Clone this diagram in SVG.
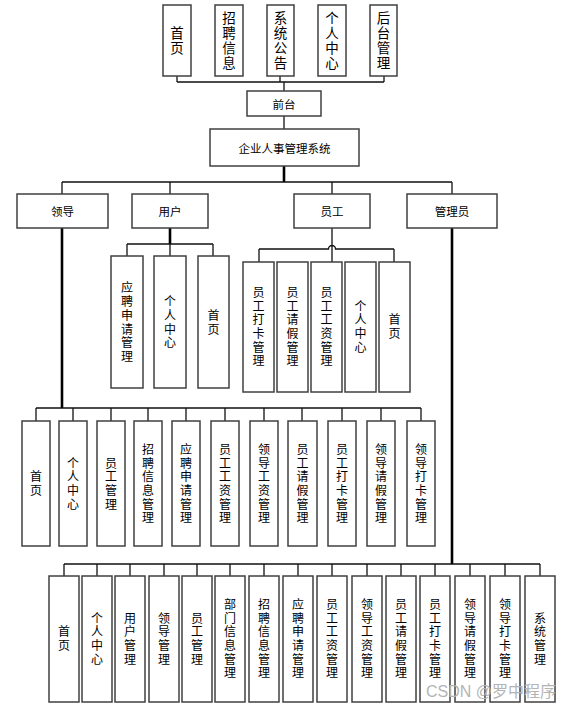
<svg xmlns="http://www.w3.org/2000/svg" width="578" height="710" viewBox="0 0 578 710">
<style>
.box{fill:#fff;stroke:#404040;stroke-width:1.5}
.ln{fill:none;stroke:#111;stroke-width:1.3}
.thick{fill:none;stroke:#000;stroke-width:2.6}
text{font-family:"Noto Sans CJK SC","Liberation Sans",sans-serif;fill:#000;text-anchor:middle}
.h{font-size:11.5px;dominant-baseline:central}
.v{font-size:12px;writing-mode:vertical-rl;letter-spacing:1.7px}
.t{font-size:13.5px;writing-mode:vertical-rl;letter-spacing:1.5px}
.wm{font-family:"Liberation Sans","Noto Sans CJK SC",sans-serif;font-size:16px;fill:#b4b4b4;text-anchor:start}
</style>
<rect width="578" height="710" fill="#fff"/>
<g id="connectors">
<path class="ln" d="M177 76V82M280 76V82M384 76V82M177 82H384M284 82V91"/>
<path class="ln" d="M284 116V129"/>
<path class="thick" d="M284 166V182"/>
<path class="ln" d="M62 182H452M170 182V194M332 182V194M62 182V194M452 182V194"/>
<path class="thick" d="M170 228V244"/>
<path class="ln" d="M127 244H213M127 244V256M170 244V256M213 244V256"/>
<path class="ln" d="M332 228V262M259 249H328.5a3.5 3.5 0 0 1 7 0H394M259 249V262M394 249V262"/>
<path class="thick" d="M62 228V408"/>
<path class="ln" d="M36 408H421M36 408V421M73 408V421M111 408V421M148 408V421M186 408V421M225 408V421M264 408V421M302 408V421M342 408V421M381 408V421M421 408V421"/>
<path class="thick" d="M452 228V564"/>
<path class="ln" d="M64 564H540M64 564V576M97 564V576M130 564V576M164 564V576M197 564V576M230 564V576M264 564V576M298 564V576M332 564V576M367 564V576M401 564V576M435 564V576M470 564V576M505 564V576M540 564V576"/>
</g>
<g id="n-shouye-top"><rect class="box" x="163" y="5" width="28" height="71"/><text class="t" x="177" y="41">首页</text></g>
<g id="n-zhaopin-top"><rect class="box" x="215" y="5" width="28" height="71"/><text class="t" x="229" y="41">招聘信息</text></g>
<g id="n-gonggao-top"><rect class="box" x="267" y="5" width="27" height="71"/><text class="t" x="280.5" y="41">系统公告</text></g>
<g id="n-geren-top"><rect class="box" x="318" y="5" width="28" height="71"/><text class="t" x="332" y="41">个人中心</text></g>
<g id="n-houtai-top"><rect class="box" x="370" y="5" width="27" height="71"/><text class="t" x="383.5" y="41">后台管理</text></g>
<g id="n-qiantai"><rect class="box" x="247" y="91" width="74" height="25"/><text class="h" x="284" y="103.5">前台</text></g>
<g id="n-system"><rect class="box" x="210" y="129" width="149" height="37"/><text class="h" x="284.5" y="147.5">企业人事管理系统</text></g>
<g id="n-lingdao"><rect class="box" x="17" y="194" width="91" height="34"/><text class="h" x="62.5" y="211">领导</text></g>
<g id="n-yonghu"><rect class="box" x="132" y="194" width="76" height="34"/><text class="h" x="170" y="211">用户</text></g>
<g id="n-yuangong"><rect class="box" x="294" y="194" width="76" height="34"/><text class="h" x="332" y="211">员工</text></g>
<g id="n-guanliyuan"><rect class="box" x="407" y="194" width="90" height="34"/><text class="h" x="452" y="211">管理员</text></g>
<g id="n-u1"><rect class="box" x="111" y="256" width="32" height="132"/><text class="v" x="127" y="323">应聘申请管理</text></g>
<g id="n-u2"><rect class="box" x="154" y="256" width="32" height="132"/><text class="v" x="170" y="323">个人中心</text></g>
<g id="n-u3"><rect class="box" x="198" y="256" width="31" height="132"/><text class="v" x="213.5" y="323">首页</text></g>
<g id="n-e1"><rect class="box" x="243" y="262" width="31" height="130"/><text class="v" x="258.5" y="327.5">员工打卡管理</text></g>
<g id="n-e2"><rect class="box" x="277" y="262" width="31" height="130"/><text class="v" x="292.5" y="327.5">员工请假管理</text></g>
<g id="n-e3"><rect class="box" x="311" y="262" width="31" height="130"/><text class="v" x="326.5" y="327.5">员工工资管理</text></g>
<g id="n-e4"><rect class="box" x="345" y="262" width="31" height="130"/><text class="v" x="360.5" y="327.5">个人中心</text></g>
<g id="n-e5"><rect class="box" x="379" y="262" width="31" height="130"/><text class="v" x="394.5" y="327.5">首页</text></g>
<g id="n-l1"><rect class="box" x="22" y="421" width="28" height="125"/><text class="v" x="36" y="484.5">首页</text></g>
<g id="n-l2"><rect class="box" x="59" y="421" width="28" height="125"/><text class="v" x="73" y="484.5">个人中心</text></g>
<g id="n-l3"><rect class="box" x="97" y="421" width="28" height="125"/><text class="v" x="111" y="484.5">员工管理</text></g>
<g id="n-l4"><rect class="box" x="134" y="421" width="28" height="125"/><text class="v" x="148" y="484.5">招聘信息管理</text></g>
<g id="n-l5"><rect class="box" x="172" y="421" width="28" height="125"/><text class="v" x="186" y="484.5">应聘申请管理</text></g>
<g id="n-l6"><rect class="box" x="211" y="421" width="28" height="125"/><text class="v" x="225" y="484.5">员工工资管理</text></g>
<g id="n-l7"><rect class="box" x="250" y="421" width="28" height="125"/><text class="v" x="264" y="484.5">领导工资管理</text></g>
<g id="n-l8"><rect class="box" x="288" y="421" width="29" height="125"/><text class="v" x="302.5" y="484.5">员工请假管理</text></g>
<g id="n-l9"><rect class="box" x="328" y="421" width="28" height="125"/><text class="v" x="342" y="484.5">员工打卡管理</text></g>
<g id="n-l10"><rect class="box" x="367" y="421" width="28" height="125"/><text class="v" x="381" y="484.5">领导请假管理</text></g>
<g id="n-l11"><rect class="box" x="407" y="421" width="28" height="125"/><text class="v" x="421" y="484.5">领导打卡管理</text></g>
<g id="n-a1"><rect class="box" x="49" y="576" width="30" height="126"/><text class="v" x="64" y="639.5">首页</text></g>
<g id="n-a2"><rect class="box" x="82" y="576" width="30" height="126"/><text class="v" x="97" y="639.5">个人中心</text></g>
<g id="n-a3"><rect class="box" x="115" y="576" width="30" height="126"/><text class="v" x="130" y="639.5">用户管理</text></g>
<g id="n-a4"><rect class="box" x="149" y="576" width="30" height="126"/><text class="v" x="164" y="639.5">领导管理</text></g>
<g id="n-a5"><rect class="box" x="182" y="576" width="30" height="126"/><text class="v" x="197" y="639.5">员工管理</text></g>
<g id="n-a6"><rect class="box" x="215" y="576" width="30" height="126"/><text class="v" x="230" y="639.5">部门信息管理</text></g>
<g id="n-a7"><rect class="box" x="249" y="576" width="30" height="126"/><text class="v" x="264" y="639.5">招聘信息管理</text></g>
<g id="n-a8"><rect class="box" x="283" y="576" width="30" height="126"/><text class="v" x="298" y="639.5">应聘申请管理</text></g>
<g id="n-a9"><rect class="box" x="317" y="576" width="30" height="126"/><text class="v" x="332" y="639.5">员工工资管理</text></g>
<g id="n-a10"><rect class="box" x="352" y="576" width="30" height="126"/><text class="v" x="367" y="639.5">领导工资管理</text></g>
<g id="n-a11"><rect class="box" x="386" y="576" width="30" height="126"/><text class="v" x="401" y="639.5">员工请假管理</text></g>
<g id="n-a12"><rect class="box" x="420" y="576" width="30" height="126"/><text class="v" x="435" y="639.5">员工打卡管理</text></g>
<g id="n-a13"><rect class="box" x="455" y="576" width="30" height="126"/><text class="v" x="470" y="639.5">领导请假管理</text></g>
<g id="n-a14"><rect class="box" x="490" y="576" width="30" height="126"/><text class="v" x="505" y="639.5">领导打卡管理</text></g>
<g id="n-a15"><rect class="box" x="525" y="576" width="30" height="126"/><text class="v" x="540" y="639.5">系统管理</text></g>
<text class="wm" x="426" y="697">CSDN @罗中程序</text>
</svg>
